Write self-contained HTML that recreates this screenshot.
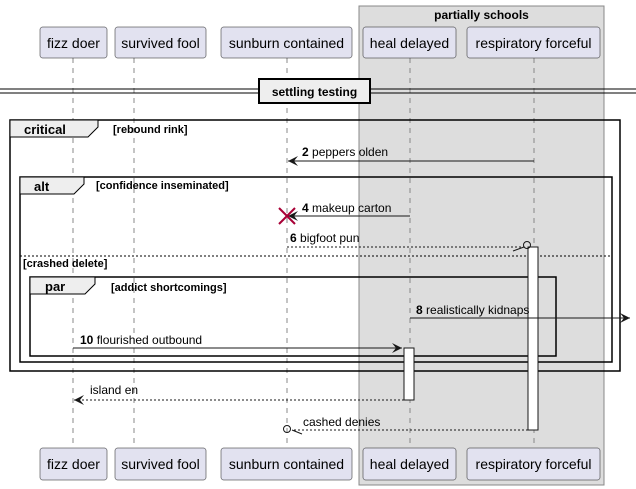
<!DOCTYPE html>
<html><head><meta charset="utf-8"><style>
html,body{margin:0;padding:0;background:#fff;}
svg{display:block;font-family:"Liberation Sans",sans-serif;}
</style></head><body>
<svg width="636" height="489" viewBox="0 0 636 489" xmlns="http://www.w3.org/2000/svg">
<defs>
<marker id="ah" markerWidth="12" markerHeight="10" refX="10" refY="5" orient="auto" markerUnits="userSpaceOnUse">
<path d="M0,0 L10,5 L0,10 L4,5 Z" fill="#181818"/></marker>
</defs>
<!-- group box -->
<rect x="359" y="6" width="245" height="479" fill="#dddddd" stroke="#888" stroke-width="1"/>
<text x="481.5" y="19" font-size="12" font-weight="bold" text-anchor="middle" fill="#000">partially schools</text>
<!-- lifelines -->
<g stroke="#888" stroke-dasharray="5,5" stroke-width="1">
<line x1="73" y1="58" x2="73" y2="448"/>
<line x1="134" y1="58" x2="134" y2="448"/>
<line x1="287" y1="58" x2="287" y2="448"/>
<line x1="410" y1="58" x2="410" y2="448"/>
<line x1="534" y1="58" x2="534" y2="448"/>
</g>
<!-- participant boxes -->
<g fill="#e2e2f0" stroke="#181818" stroke-width="0.5">
<rect x="40" y="27" width="67" height="31" rx="2.5"/>
<rect x="115" y="27" width="91" height="31" rx="2.5"/>
<rect x="221" y="27" width="131" height="31" rx="2.5"/>
<rect x="363" y="27" width="93" height="31" rx="2.5"/>
<rect x="467" y="27" width="133" height="31" rx="2.5"/>
<rect x="40" y="448" width="67" height="32" rx="2.5"/>
<rect x="115" y="448" width="91" height="32" rx="2.5"/>
<rect x="221" y="448" width="131" height="32" rx="2.5"/>
<rect x="363" y="448" width="93" height="32" rx="2.5"/>
<rect x="467" y="448" width="133" height="32" rx="2.5"/>
</g>
<g font-size="14" text-anchor="middle" fill="#000">
<text x="73.5" y="48">fizz doer</text>
<text x="160.5" y="48">survived fool</text>
<text x="286.5" y="48">sunburn contained</text>
<text x="409.5" y="48">heal delayed</text>
<text x="533.5" y="48">respiratory forceful</text>
<text x="73.5" y="469">fizz doer</text>
<text x="160.5" y="469">survived fool</text>
<text x="286.5" y="469">sunburn contained</text>
<text x="409.5" y="469">heal delayed</text>
<text x="533.5" y="469">respiratory forceful</text>
</g>
<!-- divider -->
<line x1="0" y1="89" x2="636" y2="89" stroke="#000" stroke-width="1"/>
<line x1="0" y1="93" x2="636" y2="93" stroke="#000" stroke-width="1"/>
<rect x="259" y="79" width="111" height="24" fill="#eee" stroke="#000" stroke-width="2"/>
<text x="314.5" y="96" font-size="12" font-weight="bold" text-anchor="middle">settling testing</text>
<!-- frames -->
<g fill="none" stroke="#000" stroke-width="1.5">
<rect x="10" y="120" width="610" height="251"/>
<rect x="20" y="177" width="592" height="185"/>
<rect x="30" y="277" width="526" height="79"/>
</g>
<g fill="#eee" stroke="#000" stroke-width="1">
<path d="M10,120 L98,120 L98,127 L88,137 L10,137 Z"/>
<path d="M20,177 L84,177 L84,184 L74,194 L20,194 Z"/>
<path d="M30,277 L95,277 L95,284 L85,294 L30,294 Z"/>
</g>
<g font-size="13" font-weight="bold">
<text x="24" y="134">critical</text>
<text x="34" y="191">alt</text>
<text x="45" y="291">par</text>
</g>
<g font-size="11" font-weight="bold">
<text x="113" y="133">[rebound rink]</text>
<text x="96" y="189">[confidence inseminated]</text>
<text x="23" y="267">[crashed delete]</text>
<text x="111" y="291">[addict shortcomings]</text>
</g>
<line x1="20" y1="256" x2="612" y2="256" stroke="#000" stroke-width="1" stroke-dasharray="2,2"/>
<!-- activations -->
<rect x="528" y="247" width="10" height="183" fill="#fff" stroke="#181818"/>
<rect x="404" y="348" width="10" height="52" fill="#fff" stroke="#181818"/>
<!-- messages -->
<g stroke="#181818" stroke-width="1" fill="none">
<line x1="534" y1="161" x2="288" y2="161" marker-end="url(#ah)"/>
<line x1="410" y1="216" x2="288" y2="216" marker-end="url(#ah)"/>
<line x1="287" y1="247" x2="524" y2="247" stroke-dasharray="2,2"/>
<line x1="513" y1="251" x2="524" y2="247"/>
<circle cx="527" cy="245" r="3.5"/>
<line x1="410" y1="318" x2="630" y2="318" marker-end="url(#ah)"/>
<line x1="73" y1="348" x2="402" y2="348" marker-end="url(#ah)"/>
<line x1="404" y1="400" x2="74" y2="400" stroke-dasharray="2,2" marker-end="url(#ah)"/>
<line x1="528" y1="430" x2="292" y2="430" stroke-dasharray="2,2"/>
<line x1="292" y1="430" x2="302" y2="434"/>
<circle cx="287" cy="429" r="3.5"/>
</g>
<g stroke="#a80036" stroke-width="2">
<line x1="279" y1="208" x2="295" y2="224"/>
<line x1="295" y1="208" x2="279" y2="224"/>
</g>
<g font-size="12" fill="#000">
<text x="302" y="156"><tspan font-weight="bold">2</tspan> peppers olden</text>
<text x="302" y="212"><tspan font-weight="bold">4</tspan> makeup carton</text>
<text x="290" y="242"><tspan font-weight="bold">6</tspan> bigfoot pun</text>
<text x="416" y="314"><tspan font-weight="bold">8</tspan> realistically kidnaps</text>
<text x="80" y="344"><tspan font-weight="bold">10</tspan> flourished outbound</text>
<text x="90" y="394">island en</text>
<text x="303" y="426">cashed denies</text>
</g>
</svg>
</body></html>
